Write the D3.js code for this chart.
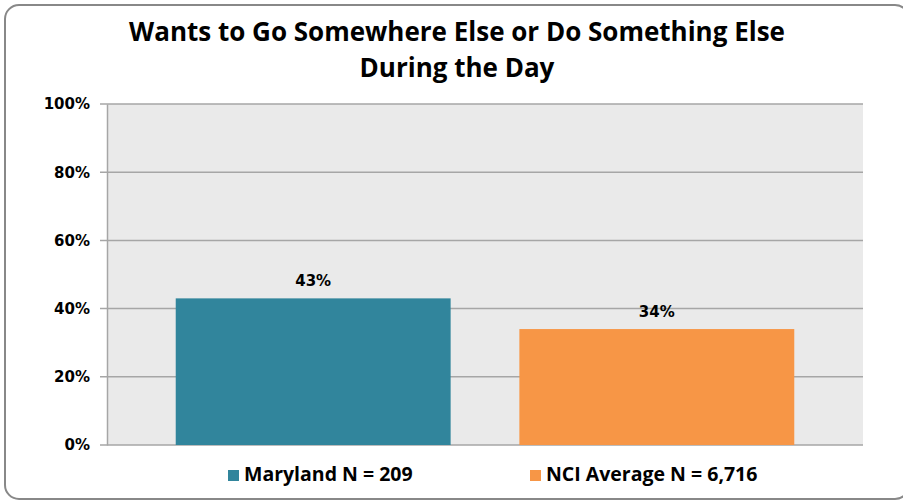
<!DOCTYPE html>
<meta charset="utf-8">
<script src="https://d3js.org/d3.v7.min.js"></script>
<style>
  body { margin: 0; background: #fff; }
</style>
<div id="chart"></div>
<script>
  // chart data
  const series = ["Maryland N = 209", "NCI Average N = 6,716"];
  const values = [43, 34];
  const colors = ["#31859C", "#F79646"];
  const yTicks = [0, 20, 40, 60, 80, 100];
  const titleLines = ["Wants to Go Somewhere Else or Do Something Else", "During the Day"];

  const width = 903, height = 502;
  const margin = { top: 104, right: 40, bottom: 57, left: 107 };
  const titleFont = "'Open Sans', sans-serif";

  const svg = d3.select("#chart")
    .append("svg")
    .attr("width", width)
    .attr("height", height);

  // outer frame
  svg.append("rect")
    .attr("x", 5).attr("y", 5)
    .attr("width", 904).attr("height", 494)
    .attr("rx", 14)
    .attr("fill", "#fff")
    .attr("stroke", "#888")
    .attr("stroke-width", 2);

  const x = d3.scaleBand()
    .domain(series)
    .range([margin.left, width - margin.right])
    .paddingInner(0.2)
    .paddingOuter(0.2);

  const y = d3.scaleLinear()
    .domain([0, 100])
    .range([height - margin.bottom, margin.top]);

  // plot background
  svg.append("rect")
    .attr("x", margin.left).attr("y", margin.top)
    .attr("width", width - margin.right - margin.left)
    .attr("height", y(0) - y(100))
    .attr("fill", "#EAEAEA");

  // gridlines
  svg.append("g")
    .selectAll("line")
    .data(yTicks)
    .join("line")
    .attr("x1", margin.left - 7)
    .attr("x2", width - margin.right)
    .attr("y1", d => y(d)).attr("y2", d => y(d))
    .attr("stroke", "#A6A6A6")
    .attr("stroke-width", 1.5);

  // y axis
  const yAxis = svg.append("g")
    .attr("transform", `translate(${margin.left},0)`)
    .call(d3.axisLeft(y).tickValues(yTicks).tickFormat(d => d + "%").tickSize(0).tickPadding(17));
  yAxis.select(".domain").attr("stroke", "#A6A6A6").attr("stroke-width", 1.5);
  yAxis.selectAll("text")
    .style("font-family", "'DejaVu Sans', sans-serif")
    .style("font-weight", "bold")
    .style("font-size", "15px")
    .attr("fill", "#000");

  // bars
  svg.append("g")
    .selectAll("rect")
    .data(values)
    .join("rect")
    .attr("x", (d, i) => x(series[i]))
    .attr("y", d => y(d))
    .attr("width", x.bandwidth())
    .attr("height", d => y(0) - y(d))
    .attr("fill", (d, i) => colors[i]);

  // data labels
  svg.append("g")
    .selectAll("text")
    .data(values)
    .join("text")
    .attr("x", (d, i) => x(series[i]) + x.bandwidth() / 2)
    .attr("y", d => y(d) - 12)
    .attr("text-anchor", "middle")
    .style("font-family", "'DejaVu Sans', sans-serif")
    .style("font-weight", "bold")
    .style("font-size", "15px")
    .text(d => d + "%");

  // title
  svg.append("g")
    .selectAll("text")
    .data(titleLines)
    .join("text")
    .attr("x", 457)
    .attr("y", (d, i) => 41 + i * 36)
    .attr("text-anchor", "middle")
    .style("font-family", titleFont)
    .style("font-weight", "bold")
    .style("font-size", "26px")
    .text(d => d);

  // legend
  const legendX = [228, 530];
  const legend = svg.append("g")
    .selectAll("g")
    .data(series)
    .join("g")
    .attr("transform", (d, i) => `translate(${legendX[i]},470)`);
  legend.append("rect")
    .attr("width", 11).attr("height", 11)
    .attr("fill", (d, i) => colors[i]);
  legend.append("text")
    .attr("x", 16).attr("y", 11)
    .style("font-family", titleFont)
    .style("font-weight", "bold")
    .style("font-size", "19.5px")
    .text(d => d);
</script>
